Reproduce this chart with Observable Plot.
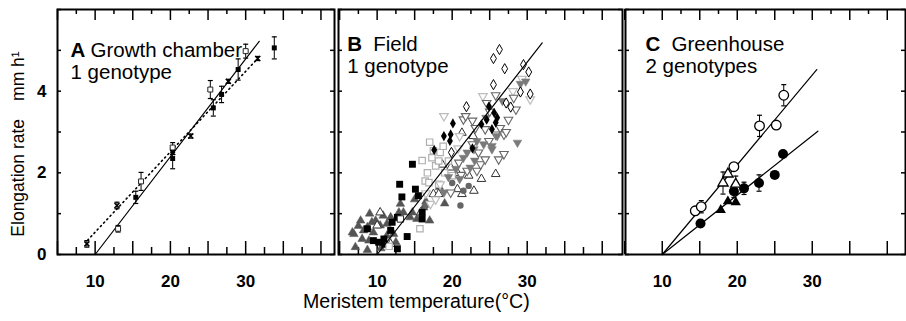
<!DOCTYPE html>
<html><head><meta charset="utf-8">
<script src="https://cdn.jsdelivr.net/npm/d3@7"></script>
<script src="https://cdn.jsdelivr.net/npm/@observablehq/plot@0.6"></script>
<style>
body{margin:0;background:#fff}
#fig{position:relative;width:906px;height:321px;font-family:"Liberation Sans",Arial,Helvetica,sans-serif;color:#000;overflow:hidden;background:#fff}
#fig svg{position:absolute;top:0}
.ytitle{position:absolute;left:-82.5px;top:133.5px;width:200px;height:20px;line-height:20px;font-size:17.5px;text-align:center;transform:rotate(-90deg);white-space:nowrap}
.ytitle .unit{margin-left:18px}
.xtitle{position:absolute;left:303px;top:292px;font-size:19.6px;line-height:19.6px;white-space:nowrap}
</style></head><body><div id="fig"></div>
<script>
// ---------- tick values ----------
const X_TICK_LABELS = [10, 20, 30];
const Y_TICK_LABELS = [0, 2, 4];
const X_MAJOR = [5, 10, 15, 20, 25, 30, 35, 40];
const X_MINOR = [7.5, 12.5, 17.5, 22.5, 27.5, 32.5, 37.5];
const Y_TICKS = [0, 1, 2, 3, 4, 5, 6];

// ---------- Panel A: growth chamber [temp, rate, err] ----------
const chamberFilled = [[15.4, 1.4, 0.15], [20.3, 2.35, 0.25], [25.7, 3.59, 0.2], [26.8, 3.92, 0.2], [29.0, 4.53, 0.26], [33.8, 5.06, 0.27]];
const chamberOpen = [[13.05, 0.63, 0.08], [16.1, 1.79, 0.22], [20.3, 2.62, 0.12], [25.3, 4.04, 0.22], [30.0, 4.98, 0.17]];
const chamberCross = [[8.9, 0.26, 0.08], [12.9, 1.2, 0.08], [20.3, 2.5, 0.05], [22.7, 2.9, 0.05], [27.7, 4.24, 0.05], [31.6, 4.8, 0.05]];
const chamberFitSolid = [[10, 0], [31.8, 5.22]];
const chamberFitDotted = [[9.0, 0.35], [31.6, 4.8]];

// ---------- Panel B: field [temp, rate] ----------
const fieldDarkTriangles = [[6.7,0.54],[6.9,0.5],[7.1,0.18],[7.5,0.7],[7.8,0.83],[8.0,0.38],[8.2,0.59],[8.7,0.67],[8.7,0.11],[8.9,0.34],[9.0,1.0],[9.3,0.79],[9.5,0.54],[9.8,0.83],[10.4,0.71],[10.5,0.15],[10.8,0.95],[11.3,0.46],[11.3,0.75],[11.8,0.91],[12.2,0.5],[12.5,0.3],[12.9,1.03],[13.1,1.24],[13.5,1.03],[14.4,0.91],[14.7,1.03],[15.0,1.35],[15.3,0.87],[16.2,1.15],[16.5,1.3],[17.0,0.83],[18.3,1.65],[19.0,1.25]];
const fieldOpenTriangles = [[10.4,1.03],[10.0,0.71],[11.8,0.26],[15.8,1.03],[17.5,1.48],[18.2,1.48],[19.8,2.13],[20.7,1.6],[20.7,2.0],[21.3,1.48],[21.3,2.98],[22.2,1.93],[22.8,2.9],[22.9,1.56],[23.9,1.85],[25.8,1.97],[18.7,2.2]];
const fieldBlackSquares = [[8.7,0.63],[9.5,0.34],[10.2,0.3],[10.9,0.38],[11.0,0.25],[11.8,0.59],[12.0,0.79],[12.7,0.14],[12.7,0.91],[13.0,1.72],[13.3,1.41],[14.0,0.44],[14.7,2.21],[15.1,1.6],[15.5,1.44],[16.0,1.03],[16.0,0.87]];
const fieldLightSquares = [[11.6,0.2],[15.7,0.63],[16.0,2.3],[16.4,1.8],[16.7,2.0],[16.9,1.76],[17.0,2.75],[17.3,2.37],[17.5,2.54],[17.8,2.17],[18.2,1.72],[18.2,2.29],[18.4,2.5],[18.8,2.65],[19.0,2.0],[19.5,2.29],[20.0,1.93]];
const fieldWhiteSquares = [[13.1,0.87]];
const fieldGrayCircles = [[16.5,1.2],[20.0,1.75],[21.1,1.2],[21.5,1.56],[22.2,1.68]];
const fieldLightDownTriangles = [[16.5,1.5],[17.1,1.24],[17.8,1.35],[18.4,1.72],[18.9,3.39],[20.8,2.6],[21.0,2.9],[24.1,3.88],[28.1,4.0],[29.3,4.3],[30.4,3.8]];
const fieldOpenDownTriangles = [[19.8,1.52],[20.9,2.25],[21.2,1.95],[21.5,3.31],[21.8,3.39],[22.0,2.05],[22.7,2.7],[22.7,3.28],[23.1,3.1],[23.3,2.05],[23.5,2.5],[23.8,2.21],[24.4,2.33],[24.4,3.07],[24.6,3.71],[24.9,2.78],[25.0,3.5],[25.8,2.94],[25.8,3.9],[26.2,2.33],[26.4,3.1],[26.9,2.46],[26.9,2.94],[27.2,3.0],[27.5,3.3],[28.2,3.84],[28.5,3.55]];
const fieldGrayDownTriangles = [[18.9,1.52],[19.5,1.9],[20.5,2.1],[21.0,1.85],[21.5,2.37],[22.0,2.5],[22.4,2.13],[22.9,2.58],[23.0,2.3],[23.3,2.78],[24.2,2.7],[24.5,3.35],[25.3,2.58],[25.3,2.66],[26.0,2.9],[26.7,3.76],[28.7,2.74],[29.1,4.18],[29.8,4.24]];
const fieldBlackDiamonds = [[17.6,2.56],[18.9,2.9],[19.7,2.78],[19.8,2.94],[20.1,3.21],[22.7,2.6],[23.9,3.19],[24.6,3.3],[24.9,3.63],[25.3,3.07],[25.6,3.47],[25.8,3.23],[26.0,3.35]];
const fieldOpenDiamonds = [[19.9,2.5],[21.9,3.62],[25.5,4.16],[25.5,4.8],[26.3,5.02],[27.0,4.55],[27.2,3.71],[27.8,3.61],[29.1,3.98],[29.5,4.65],[30.2,4.47],[30.4,3.93]];
const fieldFit = [[10, 0], [32.0, 5.18]];

// ---------- Panel C: greenhouse [temp, rate, err] ----------
const houseOpenCircles = [[14.4,1.07,0],[15.2,1.17,0.15],[19.55,2.15,0],[22.97,3.15,0.26],[25.2,3.17,0],[26.2,3.9,0.26]];
const houseOpenTriangles = [[18.1,1.75,0.27],[18.75,1.97,0],[19.8,1.72,0.2]];
const houseFilledCircles = [[15.1,0.76,0],[19.55,1.55,0.15],[20.9,1.62,0.15],[22.9,1.75,0.2],[25.0,1.95,0],[26.1,2.46,0]];
const houseFilledTriangles = [[17.8,1.09,0],[18.75,1.3,0],[19.8,1.28,0]];
const houseFitOpen = [[10, 0], [30.6, 4.53]];
const houseFitFilled = [[10, 0], [30.75, 3.02]];

// ---------- helpers ----------
const H = 321, MT = 9, MB = 67, INNER_H = H - MT - MB;
const FONT = "'Liberation Sans', Arial, Helvetica, sans-serif";
const NOTE_SIZE = 20.5;
const rows = pairs => pairs.map(([t, r, e = 0]) => ({t, r, e}));
const triDown = {draw(ctx, size) {
  const y = -Math.sqrt(size / (Math.sqrt(3) * 3));
  ctx.moveTo(0, -2 * y); ctx.lineTo(-Math.sqrt(3) * y, y); ctx.lineTo(Math.sqrt(3) * y, y); ctx.closePath();
}};
const cap = {draw(ctx, size) {
  const w = Math.sqrt(size / Math.PI);
  ctx.moveTo(-w, 0); ctx.lineTo(w, 0);
}};
function errorBars(pairs) {
  const d = rows(pairs).filter(p => p.e > 0);
  return [
    Plot.ruleX(d, {x: "t", y1: p => p.r - p.e, y2: p => p.r + p.e, stroke: "black", strokeWidth: 1}),
    Plot.dot(d, {x: "t", y: p => p.r + p.e, symbol: cap, r: 2.5, stroke: "black", strokeWidth: 1.2, fill: "none"}),
    Plot.dot(d, {x: "t", y: p => p.r - p.e, symbol: cap, r: 2.5, stroke: "black", strokeWidth: 1.2, fill: "none"})
  ];
}
const dots = (pairs, style) => Plot.dot(rows(pairs), {x: "t", y: "r", ...style});
const fit = (pairs, style = {}) => Plot.line(rows(pairs), {x: "t", y: "r", stroke: "black", strokeWidth: 1.2, ...style});
const note = (text, dx, dy, bold = false) => Plot.text([text], {text: d => d, frameAnchor: "top-left", textAnchor: "start", lineAnchor: "top", dx, dy, fontSize: NOTE_SIZE, fontWeight: bold ? "bold" : "normal", fill: "black"});

function panel({left, width, marginLeft, marginRight, xDomain, bottomMinor = true, yLabels = false, marks}) {
  const innerW = width - marginLeft - marginRight;
  const tick = {x: d => d, stroke: "black", strokeWidth: 1.5};
  const ytick = {y: d => d, stroke: "black", strokeWidth: 1.5};
  const svg = Plot.plot({
    width, height: H, marginTop: MT, marginBottom: MB, marginLeft, marginRight,
    x: {type: "linear", domain: xDomain},
    y: yLabels ? {type: "linear", domain: [0, 6]} : {type: "linear", domain: [0, 6], axis: null},
    style: {fontFamily: FONT, background: "transparent", color: "black"},
    marks: [
      Plot.tickX(X_MAJOR, {...tick, insetTop: INNER_H - 13}),
      bottomMinor ? Plot.tickX(X_MINOR, {...tick, insetTop: INNER_H - 7}) : null,
      Plot.tickX(X_MAJOR, {...tick, insetBottom: INNER_H - 11}),
      Plot.tickX(X_MINOR, {...tick, insetBottom: INNER_H - 5}),
      Plot.tickY(Y_TICKS, {...ytick, insetRight: innerW - 4}),
      Plot.tickY(Y_TICKS, {...ytick, insetLeft: innerW - 4}),
      Plot.axisX(X_TICK_LABELS, {tickSize: 0, tickPadding: 20, fontSize: 17, fontWeight: "bold", label: null}),
      yLabels ? Plot.axisY(Y_TICK_LABELS, {tickSize: 0, tickPadding: 11, fontSize: 17, fontWeight: "bold", label: null}) : null,
      ...marks,
      Plot.frame({stroke: "black", strokeWidth: 2})
    ]
  });
  svg.style.left = left + "px";
  document.getElementById("fig").appendChild(svg);
}

// Panel A
panel({left: 0, width: 336, marginLeft: 57, marginRight: 2, xDomain: [5, 41.8], yLabels: true, marks: [
  ...errorBars(chamberFilled), ...errorBars(chamberOpen), ...errorBars(chamberCross),
  fit(chamberFitSolid),
  fit(chamberFitDotted, {strokeDasharray: "1.2,3.5", strokeWidth: 1.6}),
  dots(chamberOpen, {symbol: "square", r: 2.8, fill: "white", stroke: "#222", strokeWidth: 1}),
  dots(chamberFilled, {symbol: "square", r: 2.8, fill: "black"}),
  dots(chamberCross, {symbol: "times", r: 2.4, stroke: "black", strokeWidth: 1.5}),
  note("A", 13, 32.5, true), note("Growth chamber", 33, 32.5), note("1 genotype", 13, 55)
]});

// Panel B
panel({left: 337, width: 287, marginLeft: 1, marginRight: 2, xDomain: [4.85, 42.7], marks: [
  dots(fieldDarkTriangles, {symbol: "triangle", r: 3.2, fill: "#555", stroke: "#555", strokeWidth: 0.5}),
  dots(fieldOpenTriangles, {symbol: "triangle", r: 3.2, fill: "white", stroke: "#333", strokeWidth: 1}),
  dots(fieldBlackSquares, {symbol: "square", r: 3.9, fill: "black"}),
  dots(fieldLightSquares, {symbol: "square", r: 3.6, fill: "white", stroke: "#b0b0b0", strokeWidth: 1.2}),
  dots(fieldWhiteSquares, {symbol: "square", r: 3.6, fill: "white", stroke: "#222", strokeWidth: 1}),
  dots(fieldGrayCircles, {symbol: "circle", r: 3.2, fill: "#666"}),
  dots(fieldLightDownTriangles, {symbol: triDown, r: 3.2, fill: "white", stroke: "#bdbdbd", strokeWidth: 1.2}),
  dots(fieldOpenDownTriangles, {symbol: triDown, r: 3.2, fill: "white", stroke: "#666", strokeWidth: 1.1}),
  dots(fieldGrayDownTriangles, {symbol: triDown, r: 3.2, fill: "#7a7a7a", stroke: "#7a7a7a", strokeWidth: 0.5}),
  dots(fieldBlackDiamonds, {symbol: "diamond", r: 3.1, fill: "black"}),
  dots(fieldOpenDiamonds, {symbol: "diamond", r: 3.1, fill: "white", stroke: "black", strokeWidth: 1}),
  fit(fieldFit),
  note("B", 8.7, 27.2, true), note("Field", 34.7, 27.2), note("1 genotype", 8.7, 48.5)
]});

// Panel C
panel({left: 623, width: 283, marginLeft: 2, marginRight: 1, xDomain: [5.1, 42.43], bottomMinor: false, marks: [
  fit(houseFitOpen), fit(houseFitFilled),
  ...errorBars(houseOpenCircles), ...errorBars(houseOpenTriangles), ...errorBars(houseFilledCircles),
  dots(houseFilledTriangles, {symbol: "triangle", r: 3.8, fill: "black"}),
  dots(houseFilledCircles, {symbol: "circle", r: 5, fill: "black"}),
  dots(houseOpenTriangles, {symbol: "triangle", r: 3.8, fill: "white", stroke: "black", strokeWidth: 1.3}),
  dots(houseOpenCircles, {symbol: "circle", r: 4.8, fill: "white", stroke: "black", strokeWidth: 1.3}),
  note("C", 20, 27.2, true), note("Greenhouse", 46, 27.2), note("2 genotypes", 20, 49.2)
]});

// Titles
const fig = document.getElementById("fig");
const yt = document.createElement("div");
yt.className = "ytitle";
yt.innerHTML = '<span>Elongation rate</span><span class="unit">mm h¹</span>';
fig.appendChild(yt);
const xt = document.createElement("div");
xt.className = "xtitle";
xt.textContent = "Meristem temperature(°C)";
fig.appendChild(xt);
</script></body></html>
